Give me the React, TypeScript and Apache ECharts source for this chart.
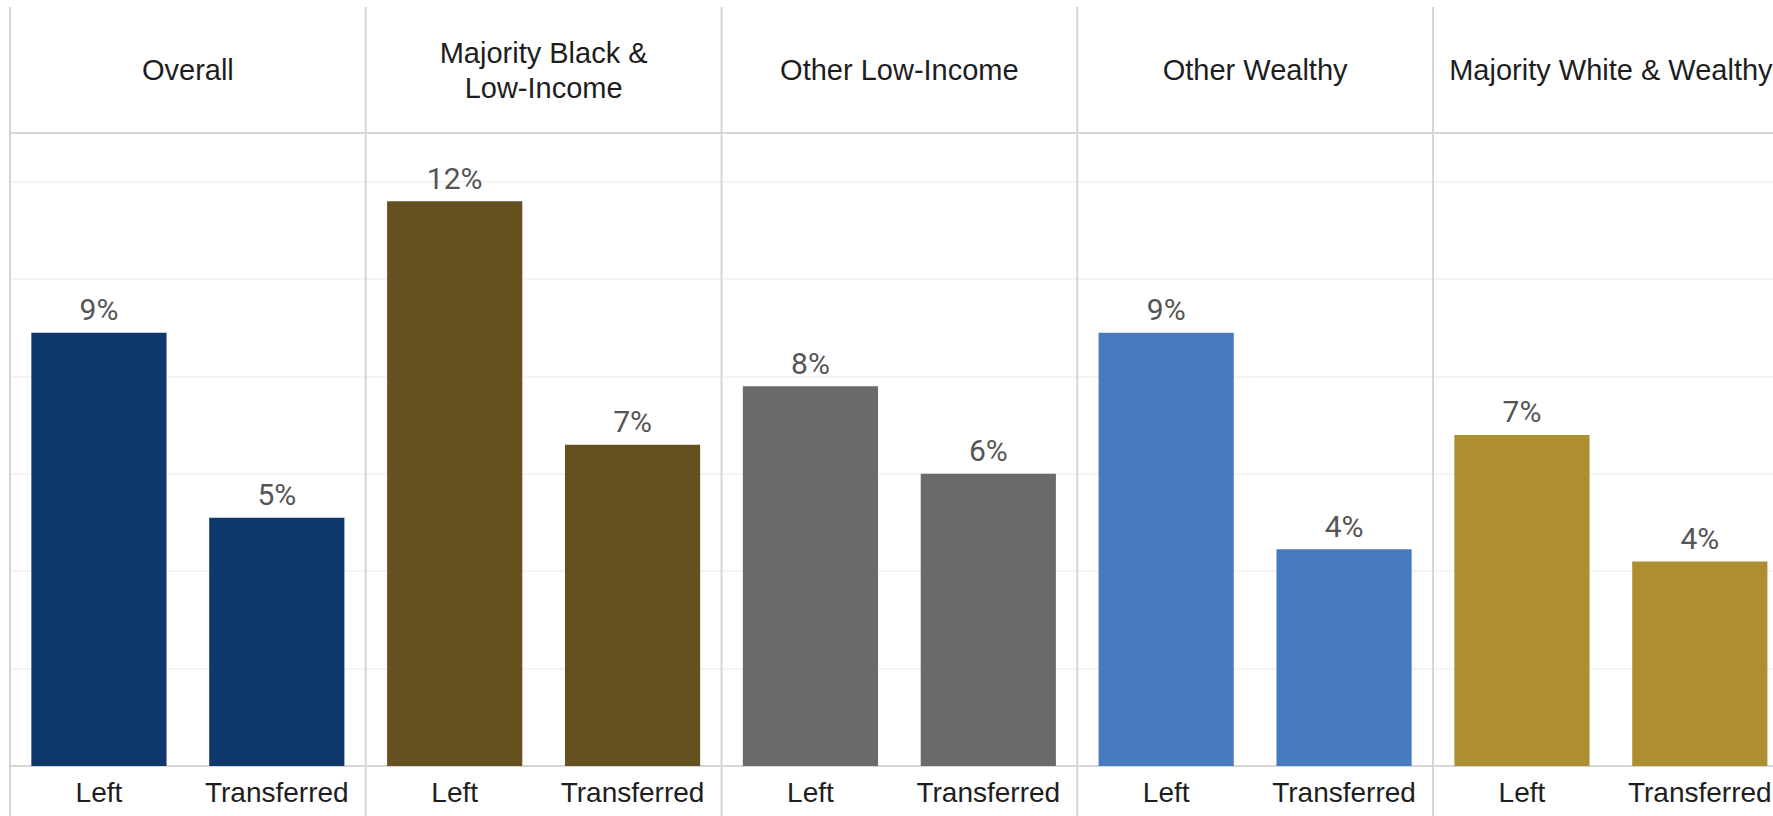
import React, { useEffect, useRef } from "react";
import * as echarts from "echarts";

// Neighbourhood groups shown as side-by-side panels
const groups = [
  "Overall",
  "Majority Black &\nLow-Income",
  "Other Low-Income",
  "Other Wealthy",
  "Majority White & Wealthy",
];
const outcomes = ["Left", "Transferred"];
// Share of students (%) per group
const leftShare = [8.9, 11.6, 7.8, 8.9, 6.8];
const transferredShare = [5.1, 6.6, 6.0, 4.45, 4.2];
const groupColors = ["#0e376c", "#65501f", "#6a6a6a", "#477bbd", "#ad8e31"];

// Axis range shared by every panel
const Y_MIN = 0;
const Y_MAX = 13;
const Y_STEP = 2;

// Panel layout (px)
const PANEL_X0 = 10;
const PANEL_W = 355.75;
const FRAME_TOP = 7;
const PLOT_TOP = 133;
const PLOT_BOTTOM = 766;
const CHART_W = 1790;
const CHART_H = 816;

const LINE_COLOR = "#d6d6d6";
const HEADER_FONT = "'Liberation Sans', Arial, sans-serif";

export default function App() {
  const ref = useRef<HTMLDivElement>(null);

  useEffect(() => {
    if (!ref.current) return;
    const chart = echarts.init(ref.current, undefined, { renderer: "svg" });

    const n = groups.length;
    const grids = groups.map((_, i) => ({
      left: PANEL_X0 + i * PANEL_W,
      width: PANEL_W,
      top: PLOT_TOP,
      height: PLOT_BOTTOM - PLOT_TOP,
    }));

    const xAxes = groups.map((_, i) => ({
      gridIndex: i,
      type: "category",
      data: outcomes,
      axisTick: { show: false },
      axisLine: { show: true, lineStyle: { color: LINE_COLOR, width: 2 } },
      axisLabel: {
        interval: 0,
        fontSize: 28,
        fontFamily: HEADER_FONT,
        color: "#1e1e1e",
        margin: 12,
      },
    }));

    const yAxes = groups.map((_, i) => ({
      gridIndex: i,
      type: "value",
      min: Y_MIN,
      max: Y_MAX,
      interval: Y_STEP,
      axisLabel: { show: false },
      axisLine: { show: false },
      axisTick: { show: false },
      splitLine: { show: true, lineStyle: { color: "#f0f0f0", width: 1.5 } },
    }));

    const series = groups.map((_, i) => ({
      type: "bar",
      xAxisIndex: i,
      yAxisIndex: i,
      data: [leftShare[i], transferredShare[i]],
      barCategoryGap: "24%",
      itemStyle: { color: groupColors[i] },
      label: {
        show: true,
        position: "top",
        distance: 8,
        formatter: (p: any) => `${Math.round(p.value)}%`,
        fontFamily: "Roboto, sans-serif",
        fontSize: 30,
        lineHeight: 30,
        color: "#555555",
      },
    }));

    // Panel frame: vertical dividers, header rule and group titles
    const graphics: any[] = [];
    for (let i = 0; i <= n; i++) {
      const x = PANEL_X0 + i * PANEL_W;
      graphics.push({
        type: "line",
        z: 10,
        shape: { x1: x, y1: FRAME_TOP, x2: x, y2: CHART_H },
        style: { stroke: LINE_COLOR, lineWidth: 2 },
      });
    }
    graphics.push({
      type: "line",
      z: 10,
      shape: { x1: PANEL_X0, y1: PLOT_TOP, x2: CHART_W, y2: PLOT_TOP },
      style: { stroke: LINE_COLOR, lineWidth: 2 },
    });
    groups.forEach((g, i) => {
      graphics.push({
        type: "text",
        z: 10,
        x: PANEL_X0 + (i + 0.5) * PANEL_W,
        y: (FRAME_TOP + PLOT_TOP) / 2,
        style: {
          text: g,
          fontSize: 29,
          lineHeight: 35,
          fontFamily: HEADER_FONT,
          fill: "#1e1e1e",
          align: "center",
          verticalAlign: "middle",
        },
      });
    });

    chart.setOption({
      animation: false,
      backgroundColor: "#ffffff",
      grid: grids,
      xAxis: xAxes,
      yAxis: yAxes,
      series,
      graphic: graphics,
    });

    return () => chart.dispose();
  }, []);

  return (
    <div
      style={{
        position: "fixed",
        left: 0,
        top: 0,
        width: 1773,
        height: CHART_H,
        overflow: "hidden",
        background: "#fff",
      }}
    >
      <div ref={ref} style={{ width: CHART_W, height: CHART_H }} />
    </div>
  );
}
